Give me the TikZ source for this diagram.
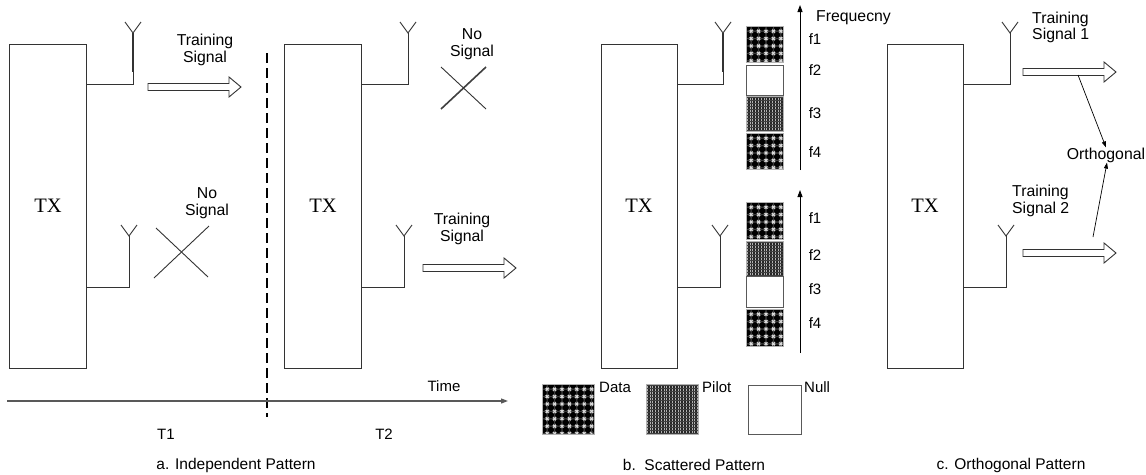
\documentclass[tikz,border=0pt]{standalone}
\usepackage{fontspec}
\setmainfont{Liberation Sans}
\newfontfamily\txfont{Liberation Serif}
\usetikzlibrary{arrows.meta}
\newcommand\datapat[4]{%
 \begin{scope}
 \clip (#1,#2) rectangle (#3,#4);
 \fill[gray!50!black] (#1,#2) rectangle (#3,#4);
 \foreach \k in {-10,...,12} {
   \draw[gray!30, line width=1.3pt] (#1+1.5+\k*7.4,#2+1.5) -- ++(70,70);
   \draw[gray!30, line width=1.3pt] (#1+1.5+\k*7.4,#2+1.5) -- ++(-70,70);
   \draw[gray!30, line width=1.3pt] (#1+1.5+\k*7.4,#2+1.5) -- ++(-20,-20);
   \draw[gray!30, line width=1.3pt] (#1+1.5+\k*7.4,#2+1.5) -- ++(20,-20);}
 \foreach \i in {-1,...,8} {\foreach \j in {-1,...,8} {
   \fill[black] (#1+1.5+\i*7.4,#2+1.5+\j*7.4) circle (3.2pt);}}
 \end{scope}
 \draw[gray!60, line width=0.6pt] (#1,#2) rectangle (#3,#4);}
\newcommand\pilotpat[4]{%
 \fill[black!85] (#1,#2) rectangle (#3,#4);
 \begin{scope}
 \clip (#1,#2) rectangle (#3,#4);
 \foreach \k in {0,...,22} {\draw[gray!60, line width=0.6pt] (#1+1+\k*2.8,#2) -- (#1+1+\k*2.8,#4);}
 \foreach \k in {0,...,16} {\draw[black!75, line width=0.5pt] (#1,#2+1+\k*3) -- (#3,#2+1+\k*3);}
 \end{scope}
 \draw[gray!60, line width=0.6pt] (#1,#2) rectangle (#3,#4);}
\newcommand\nullpat[4]{%
 \draw[gray!70!black, line width=0.8pt, fill=white] (#1,#2) rectangle (#3,#4);}
\begin{document}
\begin{tikzpicture}[x=1pt,y=-1pt,
  ln/.style={draw=black!80, line width=0.9pt},
  txbox/.style={draw=black!80, line width=0.9pt, minimum width=77pt, minimum height=324pt, inner sep=0pt, font=\txfont\fontsize{20.5}{24}\selectfont},
  lbl/.style={font=\fontsize{15}{16.7}\selectfont, align=center, inner sep=0pt},
  biglbl/.style={font=\fontsize{15.8}{16.7}\selectfont, align=center, inner sep=0pt},
  captxt/.style={font=\fontsize{15.5}{17}\selectfont, inner sep=0pt},
  antenna/.pic={\draw[draw=black!80, line width=0.9pt] (-8,-11) -- (0,0) -- (8,-11);},
  barrow/.pic={\draw[draw=black!80, line width=0.9pt, fill=white] (0,-3.5) -- (81,-3.5) -- (81,-10) -- (93,0) -- (81,10) -- (81,3.5) -- (0,3.5) -- cycle;},
  tip/.style={-{Triangle[length=7pt,width=5pt]}}]
\useasboundingbox (0,0) rectangle (1146,474);
\fill[white] (0,0) rectangle (1146,474);

% ---------- panel a ----------
\node[txbox] (b1) at (48,206) {TX};
\node[txbox] (b2) at (323,206) {TX};
\coordinate (a1u) at (133,33);
\coordinate (a1l) at (129,236);
\coordinate (a2u) at (408,33);
\coordinate (a2l) at (404,236);
\pic at (a1u) {antenna}; \pic at (a1l) {antenna};
\pic at (a2u) {antenna}; \pic at (a2l) {antenna};
\draw[ln] (b1.east |- 0,84) -| (a1u);
\draw[draw=black!80, line width=1.8pt] (a1u) -- (133,72);
\draw[ln] (b1.east |- 0,287) -| (a1l);
\draw[ln] (b2.east |- 0,84) -| (a2u);
\draw[ln] (b2.east |- 0,287) -| (a2l);
\pic at (148,87) {barrow};
\pic at (423,268) {barrow};
\node[biglbl] (ts1a) at (205,50) {Training\\Signal};
\node[biglbl] (ns1a) at (207,203) {No\\Signal};
\node[biglbl] (ns2a) at (472,44) {No\\Signal};
\node[biglbl] (ts2a) at (462,229) {Training\\Signal};
\draw[ln] (154,278) -- (209,226);
\draw[ln] (156,228) -- (208,277);
\draw[draw=black!75, line width=1.6pt] (441,109) -- (486,67);
\draw[ln] (441,67) -- (486,109);
\draw[black, line width=1.8pt, dash pattern=on 10pt off 5pt] (267,53) -- (267,417);
\draw[draw=black!65, line width=1.2pt, tip] (7,401) -- (508,401);
\node[lbl] (time) at (444,386) {Time};
\node[lbl] (t1) at (166,434) {T1};
\node[lbl] (t2) at (384,434) {T2};
\node[captxt] (capa) at (236,465) {a. Independent Pattern};

% ---------- panel b ----------
\node[txbox, minimum width=76pt] (b3) at (639,206) {TX};
\coordinate (a3u) at (723,33);
\coordinate (a3l) at (720,236);
\pic at (a3u) {antenna}; \pic at (a3l) {antenna};
\draw[ln] (b3.east |- 0,84) -| (a3u);
\draw[draw=black!80, line width=1.8pt] (a3u) -- (723,72);
\draw[ln] (b3.east |- 0,287) -| (a3l);
\datapat{746}{26}{783}{62}
\nullpat{746}{65}{783}{95}
\pilotpat{746}{96}{783}{131}
\datapat{746}{133}{783}{169}
\datapat{746}{202}{783}{239}
\pilotpat{746}{241}{783}{276}
\nullpat{746}{276}{783}{307}
\datapat{746}{309}{783}{346}
\coordinate (fu0) at (800,170); \coordinate (fu1) at (800,5);
\coordinate (fl0) at (800,353); \coordinate (fl1) at (800,190);
\draw[draw=black, line width=0.9pt, tip] (fu0) -- (fu1);
\draw[draw=black, line width=0.9pt, tip] (fl0) -- (fl1);
\node[biglbl, anchor=west] (freq) at (816,18) {Frequecny};
\node[lbl] (f1u) at (815,39) {f1};
\node[lbl] (f2u) at (815,70) {f2};
\node[lbl] (f3u) at (815,113) {f3};
\node[lbl] (f4u) at (815,152) {f4};
\node[lbl] (f1l) at (815,218) {f1};
\node[lbl] (f2l) at (815,255) {f2};
\node[lbl] (f3l) at (815,289) {f3};
\node[lbl] (f4l) at (815,323) {f4};
\datapat{542}{384}{594}{434}
\pilotpat{646}{384}{698}{434}
\nullpat{748}{385}{801}{434}
\node[lbl, anchor=west] (ldata) at (599,387) {Data};
\node[lbl, anchor=west] (lpilot) at (702,387) {Pilot};
\node[lbl, anchor=west] (lnull) at (804,387) {Null};
\node[captxt] (capb) at (694,465) {b.~~Scattered Pattern};

% ---------- panel c ----------
\node[txbox, minimum width=76pt] (b4) at (925,206) {TX};
\coordinate (a4u) at (1010,33);
\coordinate (a4l) at (1006,236);
\pic at (a4u) {antenna}; \pic at (a4l) {antenna};
\draw[ln] (b4.east |- 0,84) -| (a4u);
\draw[ln] (b4.east |- 0,287) -| (a4l);
\pic at (1023,72) {barrow};
\pic at (1023,253) {barrow};
\node[biglbl, align=left, anchor=west] (ts1c) at (1032,27.5) {Training\\Signal 1};
\node[biglbl, align=left, anchor=west] (ts2c) at (1012,201) {Training\\Signal 2};
\node[biglbl] (orth) at (1106,155) {Orthogonal};
\coordinate (o1) at (1078,75);
\coordinate (o2) at (1093,237);
\draw[draw=black, line width=0.7pt, -{Triangle[length=6pt,width=4pt]}] (o1) -- (orth.north);
\draw[draw=black, line width=0.7pt, -{Triangle[length=6pt,width=4pt]}] (o2) -- ([xshift=1pt]orth.south);
\node[captxt] (capc) at (1011,465) {c. Orthogonal Pattern};
\end{tikzpicture}
\end{document}
